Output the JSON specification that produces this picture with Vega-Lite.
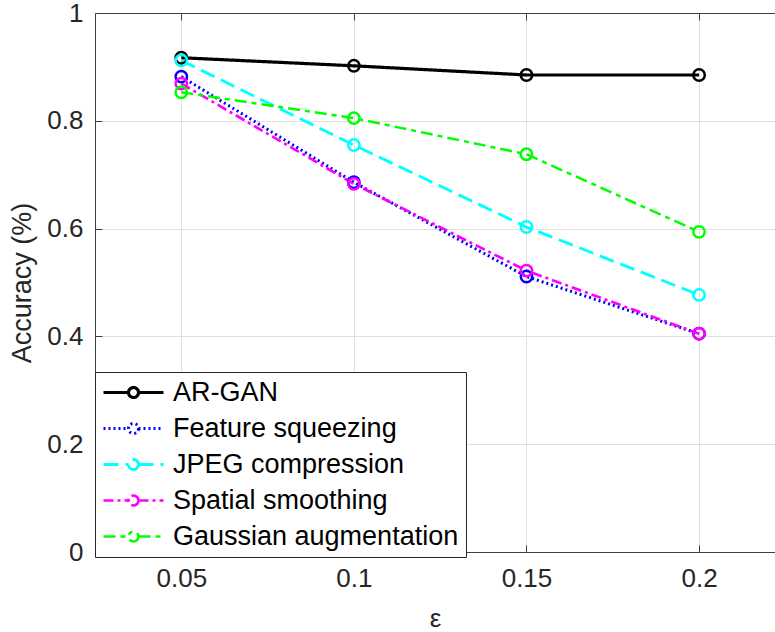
{
  "$schema": "https://vega.github.io/schema/vega-lite/v6.json",
  "autosize": {"type": "none"},
  "padding": {"left": 95, "top": 13, "right": 0, "bottom": 80},
  "width": 680,
  "height": 539,
  "background": "white",
  "config": {"view": {"stroke": null}, "font": "Liberation Sans"},
  "data": {"values": [
    {"series": "AR-GAN", "eps": 0.05, "acc": 0.917},
    {"series": "AR-GAN", "eps": 0.1, "acc": 0.902},
    {"series": "AR-GAN", "eps": 0.15, "acc": 0.885},
    {"series": "AR-GAN", "eps": 0.2, "acc": 0.885},
    {"series": "Feature squeezing", "eps": 0.05, "acc": 0.882},
    {"series": "Feature squeezing", "eps": 0.1, "acc": 0.686},
    {"series": "Feature squeezing", "eps": 0.15, "acc": 0.511},
    {"series": "Feature squeezing", "eps": 0.2, "acc": 0.405},
    {"series": "JPEG compression", "eps": 0.05, "acc": 0.912},
    {"series": "JPEG compression", "eps": 0.1, "acc": 0.755},
    {"series": "JPEG compression", "eps": 0.15, "acc": 0.603},
    {"series": "JPEG compression", "eps": 0.2, "acc": 0.477},
    {"series": "Spatial smoothing", "eps": 0.05, "acc": 0.869},
    {"series": "Spatial smoothing", "eps": 0.1, "acc": 0.683},
    {"series": "Spatial smoothing", "eps": 0.15, "acc": 0.522},
    {"series": "Spatial smoothing", "eps": 0.2, "acc": 0.405},
    {"series": "Gaussian augmentation", "eps": 0.05, "acc": 0.853},
    {"series": "Gaussian augmentation", "eps": 0.1, "acc": 0.805},
    {"series": "Gaussian augmentation", "eps": 0.15, "acc": 0.738},
    {"series": "Gaussian augmentation", "eps": 0.2, "acc": 0.594}
  ]},
  "layer": [
    {
      "mark": {"type": "line", "clip": true},
      "encoding": {
        "x": {"field": "eps", "type": "quantitative",
          "scale": {"domain": [0.025, 0.222], "nice": false, "zero": false},
          "axis": {"values": [0.05, 0.1, 0.15, 0.2], "format": "~g", "title": "ε",
            "grid": true, "gridColor": "#e0e0e0", "domainColor": "#404040", "tickColor": "#404040",
            "tickSize": -7, "labelPadding": 20, "labelFontSize": 26, "labelColor": "#262626",
            "titleFontSize": 26, "titleFontWeight": "normal", "titleColor": "#262626", "titlePadding": 14}},
        "y": {"field": "acc", "type": "quantitative",
          "scale": {"domain": [0, 1], "nice": false},
          "axis": {"values": [0, 0.2, 0.4, 0.6, 0.8, 1], "format": "~g", "title": "Accuracy (%)",
            "grid": true, "gridColor": "#e0e0e0", "domainColor": "#404040", "tickColor": "#404040",
            "tickSize": -7, "labelPadding": 19, "labelFontSize": 26, "labelColor": "#262626",
            "titleFontSize": 27, "titleFontWeight": "normal", "titleColor": "#262626", "titlePadding": 10}},
        "color": {"field": "series", "type": "nominal",
          "scale": {"domain": ["AR-GAN", "Feature squeezing", "JPEG compression", "Spatial smoothing", "Gaussian augmentation"],
            "range": ["#000000", "#0000ff", "#00ffff", "#ff00ff", "#00ff00"]},
          "legend": {"orient": "none", "legendX": 0, "legendY": 359, "title": null,
            "symbolType": "M-3,0H-0.5M0.5,0H3M0.5,0C0.5,0.276,0.276,0.5,0,0.5C-0.276,0.5,-0.5,0.276,-0.5,0C-0.5,-0.276,-0.276,-0.5,0,-0.5C0.276,-0.5,0.5,-0.276,0.5,0Z",
            "symbolSize": 400, "symbolStrokeWidth": 2, "symbolFillColor": "transparent",
            "symbolOffset": 18, "labelOffset": 26,
            "labelFontSize": 27, "labelColor": "#000000", "labelLimit": 400,
            "strokeColor": "#262626", "fillColor": "white", "padding": 7, "rowPadding": 8}},
        "strokeDash": {"field": "series", "type": "nominal",
          "scale": {"domain": ["AR-GAN", "Feature squeezing", "JPEG compression", "Spatial smoothing", "Gaussian augmentation"],
            "range": [[1, 0], [2, 3], [15, 7], [10, 4, 3, 4], [12, 5, 5, 5]]},
          "legend": {"orient": "none", "legendX": 0, "legendY": 359, "title": null,
            "symbolType": "M-3,0H-0.5M0.5,0H3M0.5,0C0.5,0.276,0.276,0.5,0,0.5C-0.276,0.5,-0.5,0.276,-0.5,0C-0.5,-0.276,-0.276,-0.5,0,-0.5C0.276,-0.5,0.5,-0.276,0.5,0Z",
            "symbolSize": 400, "symbolStrokeWidth": 2, "symbolFillColor": "transparent",
            "symbolOffset": 18, "labelOffset": 26,
            "labelFontSize": 27, "labelColor": "#000000", "labelLimit": 400,
            "strokeColor": "#262626", "fillColor": "white", "padding": 7, "rowPadding": 8}},
        "strokeWidth": {"field": "series", "type": "nominal",
          "scale": {"domain": ["AR-GAN", "Feature squeezing", "JPEG compression", "Spatial smoothing", "Gaussian augmentation"],
            "range": [3.2, 2.5, 2.5, 2.5, 2.5]},
          "legend": null}
      }
    },
    {
      "mark": {"type": "point", "shape": "circle", "filled": false, "size": 130, "strokeWidth": 2.5, "opacity": 1},
      "encoding": {
        "x": {"field": "eps", "type": "quantitative", "axis": null},
        "y": {"field": "acc", "type": "quantitative"},
        "color": {"field": "series", "type": "nominal"}
      }
    },
    {
      "mark": {"type": "point", "opacity": 0},
      "encoding": {
        "x": {"field": "eps", "type": "quantitative",
          "axis": {"orient": "top", "values": [0.05, 0.1, 0.15, 0.2], "labels": false, "title": null,
            "grid": false, "domainColor": "#404040", "tickColor": "#404040", "tickSize": -7}}
      }
    }
  ],
  "resolve": {"axis": {"x": "independent"}}
}
